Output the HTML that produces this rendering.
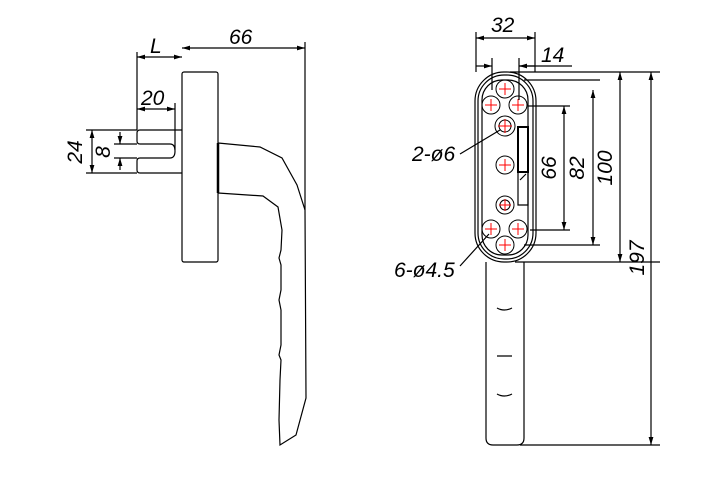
<!DOCTYPE html><html><head><style>body{margin:0;background:#fff}svg{display:block}text{font-family:"Liberation Sans",sans-serif;font-size:21px;font-style:italic;fill:#000}</style></head><body>
<svg width="727" height="483" viewBox="0 0 727 483" xmlns="http://www.w3.org/2000/svg">
<defs><marker id="a" viewBox="0 0 10 6" refX="10" refY="3" markerWidth="8" markerHeight="4" orient="auto-start-reverse"><path d="M0,0L10,3L0,6z"/></marker></defs>
<g fill="none" stroke="#000" stroke-width="1.2">
<rect x="182" y="72" width="36" height="190" rx="2"/>
<line x1="218" y1="143" x2="218" y2="193" stroke-width="2.5"/>
<path d="M218,143 L260,147 282,158 297,185 305,210 L306,398 296,435 280,445 279,420 280,380 281,360 279,355 281,345 281,310 279,300 281,290 281,265 279,258 281,250 282,230 278,207 263,196 218,193"/>
<path d="M182,130 H140 q-3,0 -3,3 v8 q0,3 3,3 H170 q5,0 5,7 q0,7 -5,7 H140 q-3,0 -3,3 v9 q0,3 3,3 H182"/>
<path d="M305,42 V210 M137,52 V130 M175,103 V150 M86,130 H137 M86,173 H137 M114,144 H137 M114,158 H137"/>
<line x1="182" y1="48" x2="305" y2="48" marker-start="url(#a)" marker-end="url(#a)"/>
<line x1="137" y1="57" x2="182" y2="57" marker-start="url(#a)" marker-end="url(#a)"/>
<line x1="137" y1="109" x2="175" y2="109" marker-start="url(#a)" marker-end="url(#a)"/>
<line x1="92" y1="130" x2="92" y2="173" marker-start="url(#a)" marker-end="url(#a)"/>
<line x1="120" y1="132" x2="120" y2="144" marker-end="url(#a)"/>
<line x1="120" y1="170" x2="120" y2="158" marker-end="url(#a)"/>
<rect x="475" y="72" width="61" height="190" rx="29"/>
<rect x="478" y="75" width="55" height="184" rx="26"/>
<rect x="482" y="80" width="46" height="175" rx="20"/>
<path d="M486,262 V438 q0,7 7,7 H517 q7,0 7,-7 V262"/>
<path d="M497,308 Q504,312 512,308 M497,356 H512 M497,394 Q504,398 512,394"/>
<rect x="518" y="127" width="10" height="45" stroke-width="2"/>
<path d="M518,172 V205 H528 V172 M520,180 l6,-6"/>
</g>
<g fill="none" stroke="#000" stroke-width="1">
<circle cx="505" cy="89" r="9"/><circle cx="491" cy="105" r="9"/><circle cx="518" cy="105" r="9"/>
<circle cx="505" cy="126" r="10"/><circle cx="505" cy="165" r="9"/><circle cx="505" cy="205" r="9"/>
<circle cx="491" cy="229" r="9"/><circle cx="518" cy="229" r="9"/><circle cx="505" cy="245" r="9"/>
<circle cx="505" cy="205" r="5"/><circle cx="505" cy="126" r="6"/>
</g>
<g stroke="red" stroke-width="1">
<path d="M499,89h12M505,83v12M485,105h12M491,99v12M512,105h12M518,99v12M498,126h14M505,119v14M499,165h12M505,159v12M499,205h12M505,199v12M485,229h12M491,223v12M512,229h12M518,223v12M499,245h12M505,239v12"/>
</g>
<g fill="none" stroke="#000" stroke-width="1.2">
<path d="M476,32V72M535,32V72M492,58V90M519,58V100M519,66H572M524,80H600M510,72H660M528,106H570M530,230H570M524,245H600M515,262H660M520,445H660"/>
<line x1="476" y1="38" x2="535" y2="38" marker-start="url(#a)" marker-end="url(#a)"/>
<line x1="476" y1="66" x2="492" y2="66" marker-end="url(#a)"/>
<line x1="535" y1="66" x2="519" y2="66" marker-end="url(#a)"/>
<line x1="564" y1="106" x2="564" y2="230" marker-start="url(#a)" marker-end="url(#a)"/>
<line x1="593" y1="90" x2="593" y2="245" marker-start="url(#a)" marker-end="url(#a)"/>
<line x1="620" y1="72" x2="620" y2="262" marker-start="url(#a)" marker-end="url(#a)"/>
<line x1="651" y1="72" x2="651" y2="445" marker-start="url(#a)" marker-end="url(#a)"/>
<path d="M460,154 L500,130 M460,266 L489,234"/>
</g>
<text x="229" y="44">66</text>
<text x="150" y="53">L</text>
<text x="141" y="105">20</text>
<text transform="translate(82,152) rotate(-90)" text-anchor="middle">24</text>
<text transform="translate(110,152) rotate(-90)" text-anchor="middle">8</text>
<text x="491" y="32">32</text>
<text x="541" y="62">14</text>
<text transform="translate(556,168) rotate(-90)" text-anchor="middle">66</text>
<text transform="translate(584,168) rotate(-90)" text-anchor="middle">82</text>
<text transform="translate(612,168) rotate(-90)" text-anchor="middle">100</text>
<text transform="translate(644,258) rotate(-90)" text-anchor="middle">197</text>
<text x="412" y="161">2-ø6</text>
<text x="394" y="277">6-ø4.5</text>
</svg></body></html>
